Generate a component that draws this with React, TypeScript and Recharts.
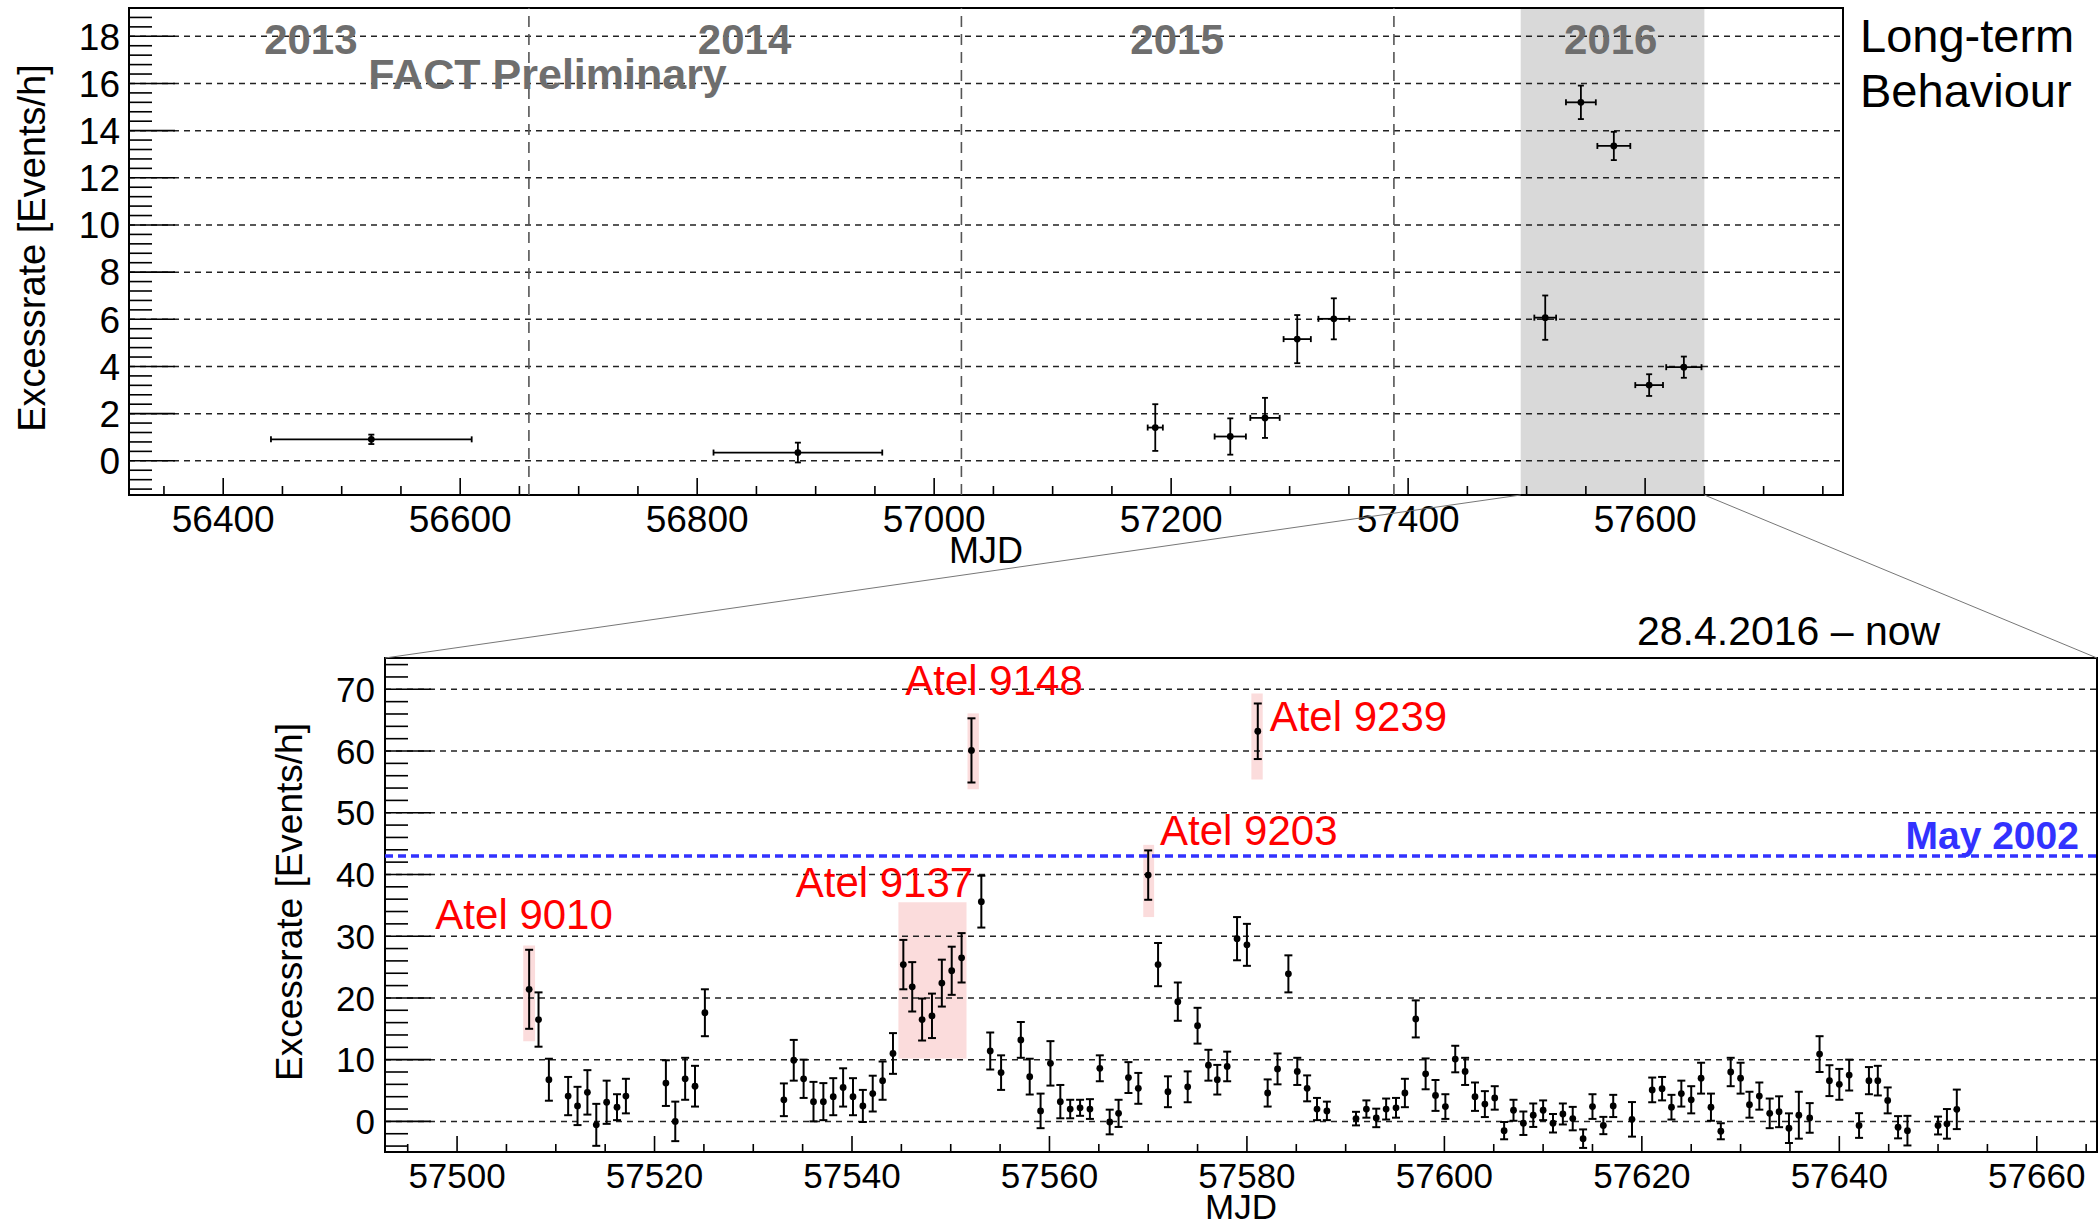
import React from "react";
import {
  ScatterChart,
  Scatter,
  XAxis,
  YAxis,
  ErrorBar,
  ReferenceLine,
  ReferenceArea,
  ReferenceDot,
} from "recharts";

const FONT = "'Liberation Sans', Arial, Helvetica, sans-serif";

// ---------- long-term panel (monthly-ish bins) ----------
const ltMjd = [56525, 56885, 57186.6, 57249.9, 57279.2, 57306.4, 57337.3, 57515.7, 57545.8, 57573.6, 57603.4, 57632.7];
const ltMjdErr = [84.7, 71.2, 6.4, 13.2, 12.4, 11.5, 13, 9.2, 12.6, 13.9, 11.7, 14.9];
const ltRate = [0.91, 0.35, 1.41, 1.03, 1.82, 5.16, 6.02, 6.07, 15.2, 13.35, 3.21, 3.97];
const ltRateErr = [0.2, 0.42, 0.99, 0.77, 0.85, 1.02, 0.87, 0.94, 0.71, 0.6, 0.46, 0.45];

const years = ["2013", "2014", "2015", "2016"];
const yearMid = [56474, 56840, 57205, 57571];
const yearBounds = [56658, 57023, 57388];
const zoomBand = [57495, 57650];

const ltXLabels = [56400, 56600, 56800, 57000, 57200, 57400, 57600];
const ltYLabels = [0, 2, 4, 6, 8, 10, 12, 14, 16, 18];

// ---------- nightly panel ----------
const nightMjd = [
  57507.3, 57508.25, 57509.3, 57511.25, 57512.2, 57513.2, 57514.1, 57515.15, 57516.2, 57517.1,
  57521.15, 57522.1, 57523.1, 57524.1, 57525.1, 57533.1, 57534.1, 57535.1, 57536.1, 57537.1,
  57538.1, 57539.1, 57540.1, 57541.1, 57542.1, 57543.1, 57544.15, 57545.2, 57546.1, 57547.1,
  57548.1, 57549.1, 57550.1, 57551.1, 57552.1, 57553.1, 57554.0, 57555.1, 57557.1, 57558.0,
  57559.1, 57560.1, 57561.1, 57562.1, 57563.1, 57564.1, 57565.1, 57566.1, 57567.0, 57568.0,
  57569.0, 57570.0, 57571.0, 57572.0, 57573.0, 57574.0, 57575.0, 57576.1, 57577.0, 57578.0,
  57579.0, 57580.0, 57581.1, 57582.1, 57583.1, 57584.2, 57585.1, 57586.1, 57587.1, 57588.1,
  57591.05, 57592.1, 57593.1, 57594.1, 57595.1, 57596.0, 57597.1, 57598.1, 57599.1, 57600.1,
  57601.1, 57602.1, 57603.1, 57604.1, 57605.1, 57606.05, 57607.0, 57608.0, 57609.0, 57610.0,
  57611.0, 57612.0, 57613.0, 57614.05, 57615.0, 57616.1, 57617.1, 57619.0, 57621.05, 57622.05,
  57623.0, 57624.0, 57625.0, 57626.0, 57627.0, 57628.0, 57629.0, 57630.0, 57630.9, 57631.9,
  57632.95, 57633.9, 57634.9, 57635.9, 57637.0, 57638.0, 57639.0, 57640.0, 57641.0, 57642.0,
  57643.0, 57643.9, 57644.9, 57645.95, 57646.9, 57650.0, 57650.9, 57651.9,
];
const nightRate = [
  21.4, 16.5, 6.75, 4.1, 2.5, 4.7, -0.56, 3.1, 2.3, 4.1,
  6.2, 0.0, 6.9, 5.7, 17.6, 3.5, 9.9, 6.9, 3.2, 3.2,
  4.0, 5.5, 4.0, 2.5, 4.5, 6.6, 11.0, 25.4, 21.8, 16.5,
  17.1, 22.4, 24.4, 26.5, 60.1, 35.6, 11.4, 7.9, 13.2, 7.25,
  1.7, 9.4, 3.2, 2.0, 2.2, 2.0, 8.6, -0.1, 1.3, 7.1,
  5.35, 39.9, 25.4, 4.8, 19.4, 5.6, 15.5, 9.1, 6.75, 8.9,
  29.6, 28.6, 63.2, 4.6, 8.5, 23.9, 8.1, 5.35, 2.0, 1.7,
  0.45, 2.0, 0.56, 2.0, 2.2, 4.6, 16.6, 7.7, 4.2, 2.4,
  10.1, 8.1, 4.0, 2.8, 3.8, -1.5, 1.8, -0.3, 1.0, 1.8,
  -0.3, 1.2, 0.45, -2.8, 2.4, -0.67, 2.5, 0.33, 5.1, 5.3,
  2.3, 4.5, 3.5, 7.0, 2.3, -1.6, 8.0, 7.0, 2.7, 4.1,
  1.3, 1.56, -1.1, 1.0, 0.56, 10.9, 6.6, 6.0, 7.5, -0.67,
  6.6, 6.6, 3.4, -0.95, -1.5, -0.67, -0.4, 1.95,
];
const nightErr = [
  6.4, 4.4, 3.4, 3.1, 3.1, 3.6, 3.4, 3.5, 2.1, 2.8,
  3.7, 3.2, 3.4, 3.3, 3.8, 2.65, 3.3, 3.1, 3.2, 3.0,
  3.0, 3.1, 3.0, 2.6, 2.9, 3.1, 3.3, 4.0, 4.0, 3.4,
  3.6, 3.8, 3.9, 4.0, 5.2, 4.2, 3.0, 2.8, 2.9, 2.9,
  2.8, 3.6, 2.7, 1.5, 1.3, 1.6, 2.1, 2.0, 2.2, 2.5,
  2.5, 4.0, 3.5, 2.5, 3.1, 2.5, 2.9, 2.5, 2.4, 2.4,
  3.5, 3.4, 4.5, 2.2, 2.5, 3.0, 2.2, 2.1, 1.8, 1.5,
  1.1, 1.4, 1.5, 1.7, 1.6, 2.3, 3.0, 2.5, 2.5, 2.0,
  2.15, 2.2, 2.3, 2.1, 1.9, 1.4, 1.7, 1.9, 1.9, 1.6,
  1.5, 1.7, 1.9, 1.5, 2.0, 1.4, 1.8, 2.8, 2.0, 1.9,
  2.0, 2.1, 2.2, 2.5, 2.2, 1.3, 2.3, 2.5, 2.1, 2.2,
  2.4, 2.5, 2.4, 3.8, 2.4, 2.9, 2.5, 2.5, 2.5, 2.0,
  2.2, 2.4, 2.1, 1.8, 2.4, 1.45, 2.4, 3.2,
];

const atelNames = ["Atel 9010", "Atel 9137", "Atel 9148", "Atel 9203", "Atel 9239"];
const atelBoxMjd = [[57506.7, 57507.9], [57544.7, 57551.6], [57551.7, 57552.85], [57569.5, 57570.6], [57580.45, 57581.6]];
const atelBoxRate = [[13, 28.5], [10.2, 35.5], [53.8, 66.1], [33.1, 44.8], [55.4, 69.3]];
const atelTextMjd = [57497.8, 57534.3, 57545.4, 57571.2, 57582.3];
const atelTextRate = [31.1, 36.4, 69.1, 44.8, 63.2];

const may2002Rate = 43;
const may2002TextAt = [57646.7, 44.1];

const nightXLabels = [57500, 57520, 57540, 57560, 57580, 57600, 57620, 57640, 57660];
const nightYLabels = [0, 10, 20, 30, 40, 50, 60, 70];

// ---------- layout ----------
const W = 2099;
const H = 1223;
const TOP = { left: 129, right: 1843, top: 8, bottom: 495, h: 600 };
const BOT = { left: 385, right: 2097, top: 658, bottom: 1152, y0: 600 };
const TOP_X: [number, number] = [56320.5, 57767];
const TOP_Y: [number, number] = [-1.45, 19.2];
const BOT_X: [number, number] = [57492.7, 57666.1];
const BOT_Y: [number, number] = [-4.96, 75.07];

const steps = (from: number, to: number, step: number) => {
  const out: number[] = [];
  for (let i = 0; from + i * step <= to + 1e-9; i++) out.push(Math.round((from + i * step) * 1000) / 1000);
  return out;
};

const ltPoints = ltMjd.map((m, i) => ({ mjd: m, mjdErr: ltMjdErr[i], rate: ltRate[i], rateErr: ltRateErr[i] }));
const nightPoints = nightMjd.map((m, i) => ({ mjd: m, rate: nightRate[i], rateErr: nightErr[i] }));

const isLabel = (labels: number[], v: number) => labels.some((l) => Math.abs(l - v) < 1e-6);

const yTick = (labels: number[], major: number, minor: number, size: number, gap: number) => (props: any) => {
  const { x, y, payload } = props;
  const big = isLabel(labels, payload.value);
  return (
    <g>
      <line x1={x} x2={x + (big ? major : minor)} y1={y} y2={y} stroke="#000" strokeWidth={1.6} />
      {big && (
        <text x={x - gap} y={y + size * 0.36} textAnchor="end" fontSize={size} fontFamily={FONT} fill="#000">
          {payload.value}
        </text>
      )}
    </g>
  );
};

const xTick = (labels: number[], major: number, minor: number, size: number, base: number) => (props: any) => {
  const { x, y, payload } = props;
  const big = isLabel(labels, payload.value);
  return (
    <g>
      <line x1={x} x2={x} y1={y} y2={y - (big ? major : minor)} stroke="#000" strokeWidth={1.6} />
      {big && (
        <text x={x} y={y + base} textAnchor="middle" fontSize={size} fontFamily={FONT} fill="#000">
          {payload.value}
        </text>
      )}
    </g>
  );
};

const dot = (props: any) => <circle cx={props.cx} cy={props.cy} r={3.4} fill="#000" />;

const textShape = (label: string, style: any) => (p: any) => (
  <text x={p.cx} y={p.cy} fontFamily={FONT} {...style}>
    {label}
  </text>
);

const topX = (m: number) => TOP.left + ((m - TOP_X[0]) / (TOP_X[1] - TOP_X[0])) * (TOP.right - TOP.left);

export default function App() {
  return (
    <div style={{ position: "absolute", left: 0, top: 0, width: W, height: H, background: "#fff", fontFamily: FONT }}>
      {/* long-term panel */}
      <div style={{ position: "absolute", left: 0, top: 0 }}>
        <ScatterChart width={W} height={TOP.h} margin={{ top: TOP.top, right: W - TOP.right, bottom: 0, left: 0 }}>
          <XAxis
            type="number"
            dataKey="mjd"
            domain={TOP_X}
            allowDataOverflow
            ticks={steps(56350, 57750, 50)}
            interval={0}
            height={TOP.h - TOP.bottom}
            axisLine={false}
            tickLine={false}
            tickSize={0}
            tickMargin={0}
            tick={xTick(ltXLabels, 17, 9, 37, 37)}
          />
          <YAxis
            type="number"
            dataKey="rate"
            domain={TOP_Y}
            allowDataOverflow
            ticks={steps(-1.2, 18.8, 0.4)}
            interval={0}
            width={TOP.left}
            axisLine={false}
            tickLine={false}
            tickSize={0}
            tickMargin={0}
            tick={yTick(ltYLabels, 46, 23, 37, 9)}
          />
          <ReferenceArea x1={zoomBand[0]} x2={zoomBand[1]} fill="#d9d9d9" fillOpacity={1} stroke="none" ifOverflow="visible" />
          {ltYLabels.map((v) => (
            <ReferenceLine key={"g" + v} y={v} stroke="#222" strokeWidth={1.5} strokeDasharray="6 5" />
          ))}
          {yearBounds.map((v) => (
            <ReferenceLine key={"yb" + v} x={v} stroke="#555" strokeWidth={1.6} strokeDasharray="11 7" />
          ))}
          {years.map((y, i) => (
            <ReferenceDot
              key={y}
              x={yearMid[i]}
              y={17.27}
              r={0}
              ifOverflow="visible"
              shape={textShape(y, { fontSize: 42, fontWeight: "bold", fill: "#6e6e6e", textAnchor: "middle" })}
            />
          ))}
          <ReferenceDot
            x={56522.5}
            y={15.75}
            r={0}
            ifOverflow="visible"
            shape={textShape("FACT Preliminary", { fontSize: 43, fontWeight: "bold", fill: "#6e6e6e" })}
          />
          <Scatter data={ltPoints} fill="#000" shape={dot} isAnimationActive={false}>
            <ErrorBar dataKey="rateErr" direction="y" width={3} stroke="#000" strokeWidth={1.8} isAnimationActive={false} />
            <ErrorBar dataKey="mjdErr" direction="x" width={3} stroke="#000" strokeWidth={1.8} isAnimationActive={false} />
          </Scatter>
          <ReferenceArea x1={TOP_X[0]} x2={TOP_X[1]} y1={TOP_Y[0]} y2={TOP_Y[1]} fill="none" stroke="#000" strokeWidth={2} ifOverflow="visible" />
        </ScatterChart>
      </div>

      {/* nightly panel */}
      <div style={{ position: "absolute", left: 0, top: BOT.y0 }}>
        <ScatterChart
          width={W}
          height={H - BOT.y0}
          margin={{ top: BOT.top - BOT.y0, right: W - BOT.right, bottom: 0, left: 0 }}
        >
          <XAxis
            type="number"
            dataKey="mjd"
            domain={BOT_X}
            allowDataOverflow
            ticks={steps(57495, 57665, 5)}
            interval={0}
            height={H - BOT.bottom}
            axisLine={false}
            tickLine={false}
            tickSize={0}
            tickMargin={0}
            tick={xTick(nightXLabels, 16, 8, 35, 36)}
          />
          <YAxis
            type="number"
            dataKey="rate"
            domain={BOT_Y}
            allowDataOverflow
            ticks={steps(-4, 74, 2)}
            interval={0}
            width={BOT.left}
            axisLine={false}
            tickLine={false}
            tickSize={0}
            tickMargin={0}
            tick={yTick(nightYLabels, 46, 23, 35, 10)}
          />
          {atelNames.map((n, i) => (
            <ReferenceArea
              key={"b" + n}
              x1={atelBoxMjd[i][0]}
              x2={atelBoxMjd[i][1]}
              y1={atelBoxRate[i][0]}
              y2={atelBoxRate[i][1]}
              fill="#fbdcdc"
              fillOpacity={1}
              stroke="none"
            />
          ))}
          {nightYLabels.map((v) => (
            <ReferenceLine key={"g" + v} y={v} stroke="#222" strokeWidth={1.5} strokeDasharray="6 5" />
          ))}
          <ReferenceLine y={may2002Rate} stroke="#3232ff" strokeWidth={3.5} strokeDasharray="8 5" />
          <ReferenceDot
            x={may2002TextAt[0]}
            y={may2002TextAt[1]}
            r={0}
            ifOverflow="visible"
            shape={textShape("May 2002", { fontSize: 39, fontWeight: "bold", fill: "#3232ff" })}
          />
          {atelNames.map((n, i) => (
            <ReferenceDot
              key={"t" + n}
              x={atelTextMjd[i]}
              y={atelTextRate[i]}
              r={0}
              ifOverflow="visible"
              shape={textShape(n, { fontSize: 42, fill: "#ff0000" })}
            />
          ))}
          <Scatter data={nightPoints} fill="#000" shape={dot} isAnimationActive={false}>
            <ErrorBar dataKey="rateErr" direction="y" width={4} stroke="#000" strokeWidth={2} isAnimationActive={false} />
          </Scatter>
          <ReferenceArea x1={BOT_X[0]} x2={BOT_X[1]} y1={BOT_Y[0]} y2={BOT_Y[1]} fill="none" stroke="#000" strokeWidth={2} ifOverflow="visible" />
        </ScatterChart>
      </div>

      {/* titles, side texts and zoom connectors */}
      <svg width={W} height={H} style={{ position: "absolute", left: 0, top: 0, pointerEvents: "none" }}>
        <line x1={topX(zoomBand[0])} y1={TOP.bottom} x2={BOT.left} y2={BOT.top} stroke="#777" strokeWidth={1} />
        <line x1={topX(zoomBand[1])} y1={TOP.bottom} x2={BOT.right} y2={BOT.top} stroke="#777" strokeWidth={1} />
        <text x={1860} y={52} fontSize={47} fontFamily={FONT} fill="#000">Long-term</text>
        <text x={1860} y={107} fontSize={47} fontFamily={FONT} fill="#000">Behaviour</text>
        <text x={1637} y={645} fontSize={41} fontFamily={FONT} fill="#000">28.4.2016 – now</text>
        <text transform="translate(45,248) rotate(-90)" textAnchor="middle" fontSize={38} fontFamily={FONT} fill="#000">
          Excessrate [Events/h]
        </text>
        <text transform="translate(302,902) rotate(-90)" textAnchor="middle" fontSize={37} fontFamily={FONT} fill="#000">
          Excessrate [Events/h]
        </text>
        <text x={(TOP.left + TOP.right) / 2} y={563} textAnchor="middle" fontSize={36} fontFamily={FONT} fill="#000">MJD</text>
        <text x={(BOT.left + BOT.right) / 2} y={1219} textAnchor="middle" fontSize={35} fontFamily={FONT} fill="#000">MJD</text>
      </svg>
    </div>
  );
}
